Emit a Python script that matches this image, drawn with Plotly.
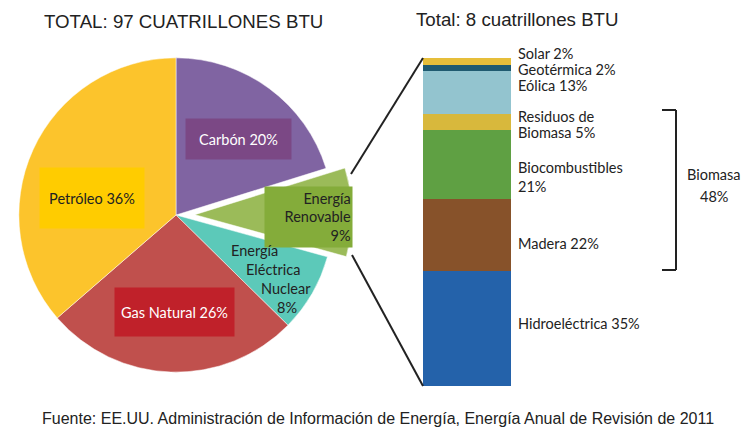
import plotly.graph_objects as go

W, H = 744, 432

# Pie data (total 97 quadrillion BTU)
pie_labels = ["Carbón", "Energía Renovable", "Energía Eléctrica Nuclear", "Gas Natural", "Petróleo"]
pie_values = [20, 9, 8, 26, 36]
pie_colors = ["#8064A2", "#9BBB59", "#5CC9B9", "#C0504D", "#FCC42C"]
pie_pull = [0, 0.12, 0, 0, 0]

# Renewable breakdown (total 8 quadrillion BTU), bottom to top
bar_labels = ["Hidroeléctrica", "Madera", "Biocombustibles", "Residuos de Biomasa", "Eólica", "Geotérmica", "Solar"]
bar_values = [35, 22, 21, 5, 13, 2, 2]
bar_colors = ["#2462AA", "#87522A", "#5FA043", "#D8B83C", "#93C4CF", "#1F5A70", "#E6BE3A"]

def px(x):
    return x / W

def py(y):
    return 1 - y / H

fig = go.Figure()

fig.add_trace(go.Pie(
    labels=pie_labels, values=pie_values, sort=False, direction="clockwise", rotation=0,
    pull=pie_pull, marker=dict(colors=pie_colors, line=dict(color="white", width=0.5)),
    textinfo="none", hoverinfo="label+percent", showlegend=False,
    domain=dict(x=[0, px(352)], y=[py(215 + 176), py(215 - 176)]),
))

for lab, val, col in zip(bar_labels, bar_values, bar_colors):
    fig.add_trace(go.Bar(
        x=["Renovable"], y=[val], name=lab, marker=dict(color=col, line=dict(width=0)),
        width=1, showlegend=False, xaxis="x", yaxis="y",
    ))

fig.update_layout(
    width=W, height=H, margin=dict(l=0, r=0, t=0, b=0),
    paper_bgcolor="white", plot_bgcolor="white", barmode="stack", bargap=0,
    xaxis=dict(domain=[px(423), px(511)], range=[-0.5, 0.5], visible=False, fixedrange=True),
    yaxis=dict(domain=[py(386), py(58)], range=[0, 100], visible=False, fixedrange=True),
)

ann = []
def add(text, x, y, size=14, color="#222", font="Lato", xanchor="center", bg=None, align="center",
        w=None, h=None, pad=1):
    d = dict(text=text, x=px(x), y=py(y), xref="paper", yref="paper", showarrow=False,
             xanchor=xanchor, yanchor="middle", align=align, borderpad=pad,
             font=dict(family=font, size=size, color=color))
    if bg:
        d["bgcolor"] = bg
    if w:
        d["width"] = w
    if h:
        d["height"] = h
    ann.append(d)

# titles
add("TOTAL: 97 CUATRILLONES BTU", 183, 21, size=18.7, font="Liberation Sans", color="#222")
add("Total: 8 cuatrillones BTU", 517, 20, size=18.7, font="Liberation Sans", color="#222")
add("Fuente: EE.UU. Administración de Información de Energía, Energía Anual de Revisión de 2011",
    378, 418, size=16, font="Liberation Sans", color="#222")

# pie labels
add("Carbón 20%", 238, 139, size=14.5, color="white", bg="#7B4885", w=103, h=38)
add("Petróleo 36%", 92, 198, size=14.5, color="#222", bg="#FFCC00", w=102, h=58)
add("Gas Natural 26%", 174, 312, size=14.5, color="white", bg="#C0212A", w=117, h=46)
add("Energía<br>Renovable<br>9%", 353, 217, size=14.5, color="#222", bg="#84AC3A",
    xanchor="right", align="right", w=85, h=58)
add("Energía", 255, 250, size=14.5, color="#222")
add("Eléctrica", 273, 269, size=14.5, color="#222")
add("Nuclear", 286, 288, size=14.5, color="#222")
add("8%", 287, 307, size=14.5, color="#222")

# bar labels
lx = 517
for t, y in [("Solar 2%", 53), ("Geotérmica 2%", 69), ("Eólica 13%", 85),
             ("Residuos de", 116), ("Biomasa 5%", 132), ("Biocombustibles", 167.5),
             ("21%", 186.5), ("Madera 22%", 243), ("Hidroeléctrica 35%", 323)]:
    add(t, lx, y, size=14.5, color="#222", xanchor="left", align="left", pad=0)

add("Biomasa", 714, 174, size=14.5, color="#222", pad=0)
add("48%", 714, 196, size=14.5, color="#222", pad=0)

fig.update_layout(annotations=ann)

shapes = []
def line(x0, y0, x1, y1, color="#222", width=2):
    shapes.append(dict(type="line", xref="paper", yref="paper", x0=px(x0), y0=py(y0),
                       x1=px(x1), y1=py(y1), line=dict(color=color, width=width)))

# connectors from the pulled slice to the bar
line(351, 174, 423, 58)
line(352, 255, 423, 386)
# biomass bracket
line(662, 110, 676, 110)
line(676, 110, 676, 270)
line(662, 270, 676, 270)
fig.update_layout(shapes=shapes)

fig.write_html("out.html", config={"displayModeBar": False},
               post_script="document.body.style.margin='0';document.body.style.overflow='hidden';")
